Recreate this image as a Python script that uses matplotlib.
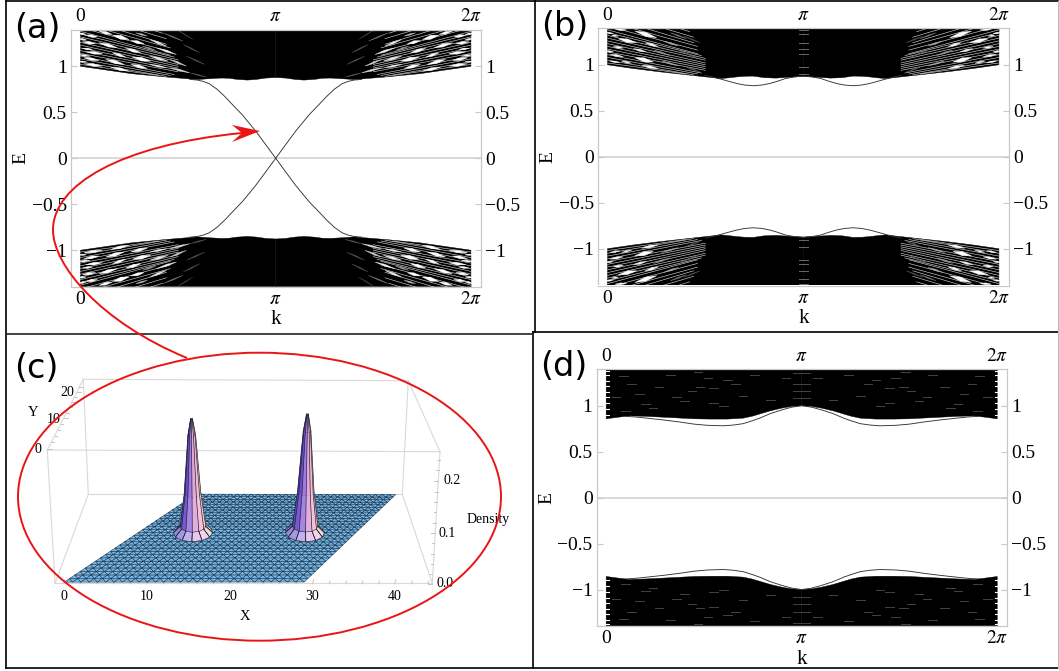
import numpy as np
import matplotlib
matplotlib.use('Agg')
import matplotlib.pyplot as plt
from matplotlib.collections import PolyCollection
from matplotlib.patches import Ellipse, PathPatch, Polygon
from matplotlib.path import Path

plt.rcParams['font.family'] = ['Liberation Serif', 'DejaVu Serif']
plt.rcParams['mathtext.fontset'] = 'stix'

W, H = 1059, 671

# k is given in units of pi, only 0..pi is listed, the rest is mirrored
a_solid_k = [0.0, 0.13, 0.26, 0.43, 0.60, 0.64, 0.68, 0.72, 0.76, 0.80, 0.855, 0.90, 0.95, 1.0, 1.0, 0.0]
a_solid_e = [1.0, 0.96, 0.92, 0.885, 0.855, 0.862, 0.867, 0.872, 0.87, 0.858, 0.85, 0.857, 0.872, 0.878, 1.395, 1.395]
a_edge_k = [0.56, 0.60, 0.63, 0.66, 0.70, 0.74, 0.78, 0.83, 0.897, 0.95, 1.0]
a_edge_e = [0.858, 0.85, 0.835, 0.81, 0.75, 0.67, 0.58, 0.47, 0.297, 0.145, 0.0]

# white gaps between the bundled levels: start k, E, end k, E, half height, grey
a_gap_k0 = [0.095, 0.164, 0.027, 0.258, 0.010, 0.095, 0.232, 0.010, 0.027, 0.164, 0.266, 0.018, 0.130, 0.258, 0.018,
            0.155, 0.283, 0.317, 0.355, 0.389, 0.355, 0.458, 0.458, 0.543, 0.526, 0.423, 0.492, 0.355, 0.560,
            -0.01, -0.01, -0.01, -0.01]
a_gap_e0 = [1.382, 1.339, 1.339, 1.280, 1.266, 1.255, 1.194, 1.194, 1.157, 1.147, 1.099, 1.092, 1.074, 1.020, 1.027,
            0.991, 1.364, 1.219, 1.291, 1.201, 1.110, 1.074, 0.984, 1.110, 1.237, 1.364, 1.400, 1.020, 0.929,
            1.360, 1.300, 1.125, 1.050]
a_gap_k1 = [0.164, 0.249, 0.087, 0.326, 0.078, 0.189, 0.309, 0.062, 0.113, 0.232, 0.360, 0.095, 0.224, 0.343, 0.113,
            0.249, 0.343, 0.386, 0.441, 0.492, 0.449, 0.543, 0.560, 0.637, 0.611, 0.526, 0.577, 0.441, 0.646,
            0.030, 0.030, 0.050, 0.030]
a_gap_e1 = [1.346, 1.291, 1.320, 1.244, 1.244, 1.201, 1.147, 1.183, 1.136, 1.099, 1.056, 1.063, 1.020, 0.976, 1.002,
            0.947, 1.328, 1.172, 1.219, 1.128, 1.056, 1.002, 0.929, 1.020, 1.147, 1.273, 1.291, 0.984, 0.882,
            1.345, 1.290, 1.110, 1.050]
a_gap_w = [0.012, 0.018, 0.011, 0.013, 0.011, 0.014, 0.013, 0.008, 0.012, 0.011, 0.016, 0.012, 0.015, 0.013, 0.011,
           0.012, 0.007, 0.007, 0.009, 0.009, 0.010, 0.008, 0.008, 0.005, 0.005, 0.005, 0.004, 0.008, 0.005,
           0.008, 0.007, 0.008, 0.006]
a_gap_c = ['#ffffff'] * 16 + ['#bbbbbb', '#999999', '#eeeeee', '#eeeeee', '#eeeeee', '#cccccc', '#dddddd',
                              '#555555', '#555555', '#777777', '#444444', '#eeeeee', '#555555',
                              '#ffffff', '#ffffff', '#ffffff', '#ffffff']

b_solid_k = [0.0, 0.13, 0.26, 0.43, 0.58, 0.62, 0.66, 0.70, 0.745, 0.80, 0.86, 0.93, 1.0, 1.0, 0.0]
b_solid_e = [1.0, 0.96, 0.925, 0.885, 0.85, 0.858, 0.868, 0.875, 0.877, 0.86, 0.855, 0.865, 0.873, 1.395, 1.395]
b_edge_k = [0.50, 0.54, 0.58, 0.62, 0.66, 0.70, 0.745, 0.79, 0.83, 0.87, 0.91, 0.955, 1.0]
b_edge_e = [0.885, 0.865, 0.844, 0.82, 0.797, 0.78, 0.772, 0.78, 0.797, 0.822, 0.851, 0.868, 0.877]
b_speck_k = [1.0, 1.0, 1.0, 1.0, 1.0, 1.0, 1.0]
b_speck_e = [0.90, 0.98, 1.12, 1.17, 1.24, 1.33, 1.38]

b_gap_k0 = [0.140, 0.038, 0.055, 0.021, 0.192, 0.286, 0.029, 0.132, 0.235, 0.012, 0.140, 0.072, 0.277, 0.012, 0.175,
            0.371, 0.388, 0.388, 0.320, -0.01, -0.01]
b_gap_e0 = [1.367, 1.385, 1.283, 1.320, 1.240, 1.258, 1.197, 1.175, 1.160, 1.113, 1.077, 1.041, 1.041, 1.041, 0.994,
            1.150, 0.987, 1.312, 1.349, 1.350, 1.150]
b_gap_k1 = [0.252, 0.098, 0.149, 0.055, 0.260, 0.363, 0.081, 0.200, 0.320, 0.081, 0.235, 0.123, 0.363, 0.063, 0.260,
            0.457, 0.474, 0.474, 0.405, 0.030, 0.030]
b_gap_e1 = [1.294, 1.378, 1.240, 1.312, 1.197, 1.204, 1.182, 1.139, 1.100, 1.088, 1.030, 1.016, 0.987, 1.023, 0.958,
            1.077, 0.920, 1.240, 1.283, 1.340, 1.140]
b_gap_w = [0.018, 0.008, 0.016, 0.007, 0.010, 0.007, 0.009, 0.010, 0.007, 0.009, 0.018, 0.008, 0.006, 0.007, 0.011,
           0.005, 0.005, 0.005, 0.006, 0.007, 0.007]
b_gap_c = ['#ffffff'] * 5 + ['#aaaaaa', '#ffffff', '#eeeeee', '#999999', '#ffffff', '#ffffff', '#eeeeee', '#aaaaaa',
                             '#ffffff', '#ffffff', '#666666', '#666666', '#555555', '#777777', '#ffffff', '#ffffff']

# thin light streaks running along the levels in the wings
hair_e0 = [1.02, 1.05, 1.08, 1.11, 1.14, 1.17, 1.20, 1.23, 1.26, 1.29, 1.32, 1.35, 1.38, 1.42, 1.47, 1.52, 1.58,
           1.64, 1.72]
hair_k1 = [0.40, 0.44, 0.46, 0.48, 0.50, 0.50, 0.50, 0.50, 0.50, 0.50, 0.50, 0.48, 0.46, 0.46, 0.46, 0.44, 0.44,
           0.42, 0.42]
hair_e1 = [0.90, 0.89, 0.90, 0.91, 0.94, 0.96, 0.98, 1.00, 1.02, 1.05, 1.07, 1.10, 1.12, 1.16, 1.20, 1.24, 1.30,
           1.36, 1.42]

d_solid_k = [0.0, 0.06, 0.12, 0.20, 0.286, 0.37, 0.45, 0.53, 0.62, 0.70, 0.745, 0.785, 0.84, 0.90, 0.95, 1.0, 1.0, 0.0]
d_solid_e = [0.858, 0.875, 0.89, 0.885, 0.876, 0.867, 0.858, 0.855, 0.855, 0.865, 0.885, 0.91, 0.945, 0.975, 0.993,
             1.0, 1.395, 1.395]
d_edge_k = [0.10, 0.15, 0.20, 0.286, 0.37, 0.45, 0.52, 0.60, 0.65, 0.70, 0.745, 0.785, 0.84, 0.90, 0.95, 1.0]
d_edge_e = [0.885, 0.878, 0.867, 0.847, 0.825, 0.80, 0.787, 0.782, 0.79, 0.805, 0.835, 0.865, 0.915, 0.956, 0.985, 1.0]
d_speck_k = [0.09, 0.10, 0.17, 0.20, 0.27, 0.33, 0.40, 0.48, 0.55, 0.55, 0.47, 0.62, 0.70, 0.98, 0.98, 0.98, 0.98,
             0.05, 0.13, 0.24, 0.36, 0.44, 0.52, 0.60, 0.66, 0.76, 0.84, 0.92]
d_speck_e = [1.32, 0.94, 1.13, 1.02, 1.20, 1.33, 1.05, 1.20, 1.19, 1.03, 1.37, 1.28, 1.11, 1.24, 1.16, 1.08, 1.36,
             1.10, 1.24, 0.98, 1.10, 1.16, 1.30, 1.00, 1.24, 1.34, 1.06, 1.30]
d_notch_e = [0.90, 0.96, 1.03, 1.09, 1.15, 1.21, 1.27, 1.33, 1.38]

e_ticks = [-1, -0.5, 0, 0.5, 1]
e_labels = ['\u22121', '\u22120.5', '0', '0.5', '1']
k_labels = ['0', r'$\pi$', r'$2\pi$']

# panel c: honeycomb density
n_x, n_y = 30, 30
peak_x = [14.8, 29.7]
peak_y = [12.9, 12.9]
peak_top = [0.24, 0.25]
peak_r = [0.12, 0.5, 1.1, 1.7, 2.6]
peak_z = [1.0, 0.86, 0.35, 0.06, 0.004]
ring_fade = [0.0, 0.0, 0.0, 0.08, 0.45]
sector_colors = ['#eac79a', '#f0d4a8', '#b98ad0', '#8060c8', '#7a58c8', '#5b3fb8',
                 '#4a34ae', '#6a4ccc', '#a07ae0', '#e2a8dc', '#f5bcd8', '#f2c8b0']
x_ticks_c = [0, 10, 20, 30, 40]
y_ticks_c = [0, 10, 20]
z_ticks_c = [0.0, 0.1, 0.2]

# box corners X, Y, Z and where they land on the page
box3d = [(-1, -0.4, 0), (44.5, -0.4, 0), (-1, 25.2, 0), (44.5, 25.2, 0),
         (-1, -0.4, 0.256), (44.5, -0.4, 0.256), (-1, 25.2, 0.256), (44.5, 25.2, 0.256)]
box2d = [(55, 583.3), (432.3, 583.3), (88.3, 494.3), (402.3, 494.3),
         (47.3, 450), (440, 451.7), (83.3, 379.3), (408.3, 380.7)]
box_edges = [(0, 1), (2, 3), (4, 5), (6, 7), (0, 2), (1, 3), (4, 6), (5, 7), (0, 4), (1, 5), (2, 6), (3, 7)]


def band_axes(l, t, r, b):
    ax = fig.add_axes([l / W, 1 - b / H, (r - l) / W, (b - t) / H])
    ax.set_xlim(-0.152, 6.445)
    ax.set_ylim(-1.4, 1.4)
    ax.axhline(0, color='#cfcfcf', lw=1.1, zorder=1)
    ax.set_xticks([0, np.pi, 2 * np.pi], k_labels)
    ax.set_yticks(e_ticks, e_labels)
    ax.tick_params(top=True, right=True, labeltop=True, labelright=True, direction='in', length=4,
                   width=0.8, color='#c8c8c8', pad=3, labelsize=14)
    for s in ax.spines.values():
        s.set_color('#c8c8c8')
        s.set_linewidth(0.9)
    ax.set_xlabel('k', fontsize=15, va='center')
    ax.xaxis.set_label_coords(0.5, -0.128)
    ax.set_ylabel('E', fontsize=14, va='center')
    ax.yaxis.set_label_coords(-0.122, 0.5)
    return ax


def four(k, e):
    k = np.array(k, dtype=float)
    e = np.array(e, dtype=float)
    return [(k * np.pi, e), ((2 - k) * np.pi, e), (k * np.pi, -e), ((2 - k) * np.pi, -e)]


def draw_bands(ax, solid_k, solid_e, edge_k, edge_e):
    for kk, ee in four(solid_k, solid_e):
        ax.fill(kk, ee, color='black', lw=0.3, zorder=2)
    for kk, ee in four(edge_k, edge_e):
        ax.plot(kk, ee, color='#333333', lw=0.65, zorder=3)


def draw_gaps(ax, k0s, e0s, k1s, e1s, ws, cs):
    for e0, k1, e1 in zip(hair_e0, hair_k1, hair_e1):
        for kk, ee in four([0, k1], [e0, e1]):
            ax.plot(kk, ee, color='#e4e4e4', lw=0.4, zorder=2.2)
    for k0, e0, k1, e1, w, c in zip(k0s, e0s, k1s, e1s, ws, cs):
        km = (k0 + k1) / 2
        em = (e0 + e1) / 2
        w = w * 1.25
        for kk, ee in four([k0, km, k1, km], [e0, em + w, e1, em - w]):
            ax.fill(kk, ee, color=c, lw=0.25, zorder=2.5)
    # keep the streaks inside the band
    ax.fill_between([-0.152, 6.445], 1.396, 1.4, color='white', lw=0, zorder=2.6)
    ax.fill_between([-0.152, 6.445], -1.4, -1.396, color='white', lw=0, zorder=2.6)


def draw_specks(ax, speck_k, speck_e, half, color):
    for k0, e0 in zip(speck_k, speck_e):
        for kk, ee in four([k0 - half, k0 + half], [e0, e0]):
            ax.plot(kk, ee, color=color, lw=0.7, zorder=3)


def fit_camera():
    rows = []
    for (x, y, z), (u, v) in zip(box3d, box2d):
        rows.append([x, y, z, 1, 0, 0, 0, 0, -u * x, -u * y, -u * z, -u])
        rows.append([0, 0, 0, 0, x, y, z, 1, -v * x, -v * y, -v * z, -v])
    return np.linalg.svd(np.array(rows))[2][-1].reshape(3, 4)


def project(x, y, z):
    p = cam @ np.array([x, y, z, 1.0])
    return p[0] / p[2], p[1] / p[2]


def blend(c, f):
    rgb = np.array(matplotlib.colors.to_rgb(c))
    return tuple(rgb * (1 - f) + np.array([0.93, 0.95, 1.0]) * f)


fig = plt.figure(figsize=(W / 100, H / 100), dpi=100)

ax_a = band_axes(71, 29.5, 481, 287)
draw_bands(ax_a, a_solid_k, a_solid_e, a_edge_k, a_edge_e)
draw_gaps(ax_a, a_gap_k0, a_gap_e0, a_gap_k1, a_gap_e1, a_gap_w, a_gap_c)

ax_b = band_axes(598, 28, 1009, 285.5)
draw_bands(ax_b, b_solid_k, b_solid_e, b_edge_k, b_edge_e)
draw_gaps(ax_b, b_gap_k0, b_gap_e0, b_gap_k1, b_gap_e1, b_gap_w, b_gap_c)
draw_specks(ax_b, b_speck_k, b_speck_e, 0.022, '#666666')

ax_d = band_axes(596.7, 369, 1007.3, 626.3)
draw_bands(ax_d, d_solid_k, d_solid_e, d_edge_k, d_edge_e)
draw_specks(ax_d, d_speck_k, d_speck_e, 0.022, '#444444')
for e0 in d_notch_e:
    for kk, ee in four([-0.002, 0.012], [e0, e0]):
        ax_d.plot(kk, ee, color='white', lw=0.8, zorder=3)

# page overlay in pixels: frames, panel c, red arrow
page = fig.add_axes([0, 0, 1, 1], zorder=10)
page.set_xlim(0, W)
page.set_ylim(H, 0)
page.axis('off')

page.plot([6, 6], [1, 668], color='black', lw=1.2)
page.plot([6, 1058], [1, 1], color='black', lw=1.2)
page.plot([6, 1058], [668, 668], color='black', lw=1.2)
page.plot([535, 535], [1, 332], color='black', lw=1.2)
page.plot([533, 533], [332, 668], color='black', lw=1.2)
page.plot([6, 533], [334, 334], color='#222222', lw=1.2)
page.plot([533, 1058], [332, 332], color='black', lw=1.2)
page.plot([1058, 1058], [1, 668], color='#bdbdbd', lw=0.8)

cam = fit_camera()
for i, j in box_edges:
    xs, ys = zip(box2d[i], box2d[j])
    page.plot(xs, ys, color='#d9d9d9', lw=0.8, zorder=1)

# floor sheet, triangular lattice
tris = []
for j in range(n_y - 1):
    for i in range(n_x - 1):
        p00 = project(i + 0.5 * j, 0.866 * j, 0)
        p10 = project(i + 1 + 0.5 * j, 0.866 * j, 0)
        p01 = project(i + 0.5 * (j + 1), 0.866 * (j + 1), 0)
        p11 = project(i + 1 + 0.5 * (j + 1), 0.866 * (j + 1), 0)
        tris.append([p00, p10, p01])
        tris.append([p10, p11, p01])
page.add_collection(PolyCollection(tris, facecolors='#74b8ea', edgecolors='#16283a', linewidths=0.35, zorder=2))

# the two density peaks, back facets first
n_sec = len(sector_colors)
for px, py, top in zip(peak_x, peak_y, peak_top):
    facets = []
    spokes = []
    for r in range(len(peak_r)):
        for s in range(n_sec):
            a0 = 2 * np.pi * s / n_sec
            a1 = 2 * np.pi * (s + 1) / n_sec
            if r == 0:
                c3 = [(px + peak_r[0] * np.cos(a0), py + peak_r[0] * np.sin(a0), top),
                      (px + peak_r[0] * np.cos(a1), py + peak_r[0] * np.sin(a1), top),
                      (px, py, top)]
            else:
                c3 = [(px + peak_r[r - 1] * np.cos(a0), py + peak_r[r - 1] * np.sin(a0), peak_z[r - 1] * top),
                      (px + peak_r[r - 1] * np.cos(a1), py + peak_r[r - 1] * np.sin(a1), peak_z[r - 1] * top),
                      (px + peak_r[r] * np.cos(a1), py + peak_r[r] * np.sin(a1), peak_z[r] * top),
                      (px + peak_r[r] * np.cos(a0), py + peak_r[r] * np.sin(a0), peak_z[r] * top)]
            depth = np.mean([c[1] for c in c3])
            facets.append((depth, [project(*c) for c in c3], blend(sector_colors[s], ring_fade[r]),
                           '#1c1c2c' if r >= len(peak_r) - 1 else 'none'))
            if r > 0 and np.sin(a0) <= 0.01:
                spokes.append([project(*c3[3]), project(*c3[0])])
    facets.sort(key=lambda f: -f[0])
    page.add_collection(PolyCollection([f[1] for f in facets], facecolors=[f[2] for f in facets],
                                       edgecolors=[f[3] for f in facets], linewidths=0.35, zorder=3))
    for sp in spokes:
        xs, ys = zip(*sp)
        page.plot(xs, ys, color='#1c1c2c', lw=0.45, zorder=4)

# ticks of the box
for t in range(0, 45, 2):
    u0, v0 = project(t, -0.4, 0)
    page.plot([u0, u0 + 1], [v0, v0 - (4 if t % 10 == 0 else 2.5)], color='#c4c4c4', lw=0.7, zorder=1)
for t in x_ticks_c:
    u0, v0 = project(t, -0.4, 0)
    page.text(u0, 597, str(t), ha='center', va='center', fontsize=10)
for t in np.arange(0, 0.25, 0.02):
    u0, v0 = project(44.5, -0.4, t)
    page.plot([u0, u0 - (4 if round(t * 100) % 10 == 0 else 2.5)], [v0, v0], color='#c4c4c4', lw=0.7, zorder=1)
for t, off in zip(z_ticks_c, [13, 12, 14]):
    u0, v0 = project(44.5, -0.4, t)
    page.text(u0 + off, v0, '%.1f' % t, ha='center', va='center', fontsize=10)
for t in range(0, 24, 2):
    u0, v0 = project(-1, t, 0.256)
    page.plot([u0, u0 + (4 if t % 10 == 0 else 2.5)], [v0, v0], color='#c4c4c4', lw=0.7, zorder=1)
for t in y_ticks_c:
    u0, v0 = project(-1, t, 0.256)
    page.text(u0 - 10, v0 + 1, str(t), ha='center', va='center', fontsize=10)
page.text(245, 617, 'X', ha='center', va='center', fontsize=10.5)
page.text(33, 412, 'Y', ha='center', va='center', fontsize=10.5)
page.text(488, 519, 'Density', ha='center', va='center', fontsize=10)

# red ellipse and curved arrow
red = '#ea1414'
page.add_patch(Ellipse((259.5, 496.7), 483, 288, fill=False, edgecolor=red, lw=1.4, zorder=6))
verts = [(187, 358), (100, 322), (53, 265), (53, 230), (53, 185), (120, 145), (242, 133)]
codes = [Path.MOVETO] + [Path.CURVE4] * 6
page.add_patch(PathPatch(Path(verts, codes), fill=False, edgecolor=red, lw=1.4, zorder=6))
page.add_patch(Polygon([(260, 131), (232, 125), (242, 133), (232, 142)], closed=True, color=red, lw=0, zorder=7))

for txt, x, y in [('(a)', 14, 29), ('(b)', 541, 27), ('(c)', 14, 368), ('(d)', 540, 366)]:
    page.text(x, y, txt, fontsize=24, family='DejaVu Sans', ha='left', va='center', zorder=8)

fig.savefig('out.png', dpi=100)
